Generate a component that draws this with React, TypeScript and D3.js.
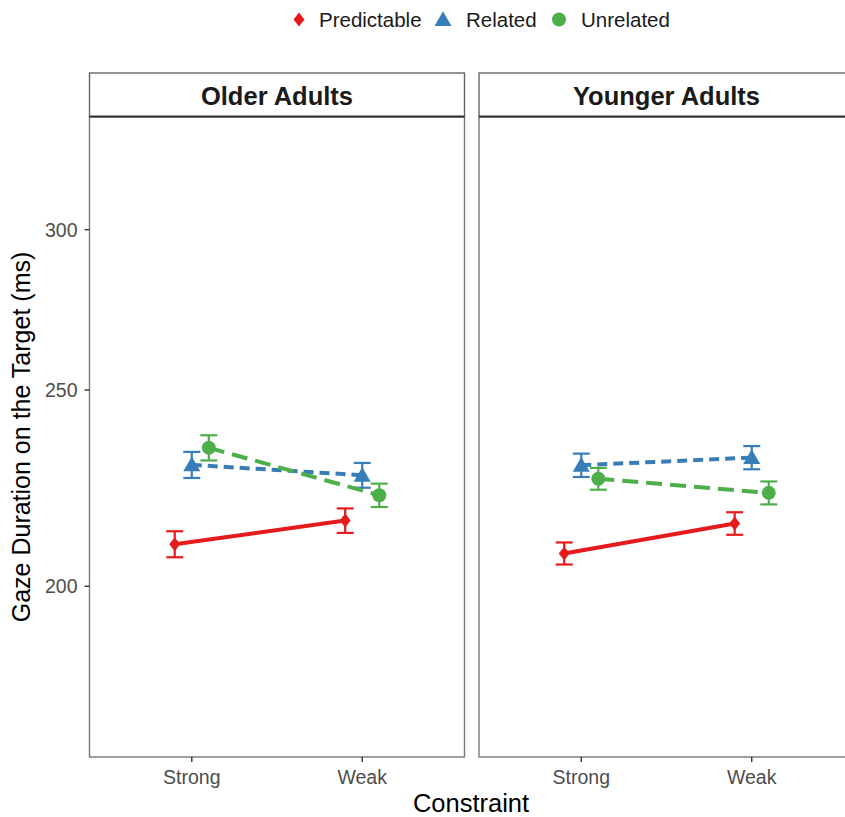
import React from 'react'
import * as d3 from 'd3'

// facets, x categories, conditions
const panels = ['Older Adults', 'Younger Adults']
const constraints = ['Strong', 'Weak']
const conditions = ['Predictable', 'Related', 'Unrelated']

// mean gaze duration (ms), [Strong, Weak]
const olderPredictable = [209.8, 215.5]
const olderRelated = [229.6, 226.9]
const olderUnrelated = [234.1, 221.8]
const youngerPredictable = [207.6, 214.8]
const youngerRelated = [229.5, 231.5]
const youngerUnrelated = [226.0, 222.4]

// standard errors
const olderPredictableSE = [3.1, 3.0]
const olderRelatedSE = [3.4, 3.2]
const olderUnrelatedSE = [3.35, 2.95]
const youngerPredictableSE = [2.6, 2.75]
const youngerRelatedSE = [3.05, 3.05]
const youngerUnrelatedSE = [2.8, 2.9]

const yTicks = [200, 250, 300]

const colors = { Predictable: '#E41A1C', Related: '#377EB8', Unrelated: '#4DAF4A' }
const dashes = { Predictable: null, Related: '10 6', Unrelated: '16 8' }

const series = {
  'Older Adults': {
    Predictable: { mean: olderPredictable, se: olderPredictableSE },
    Related: { mean: olderRelated, se: olderRelatedSE },
    Unrelated: { mean: olderUnrelated, se: olderUnrelatedSE },
  },
  'Younger Adults': {
    Predictable: { mean: youngerPredictable, se: youngerPredictableSE },
    Related: { mean: youngerRelated, se: youngerRelatedSE },
    Unrelated: { mean: youngerUnrelated, se: youngerUnrelatedSE },
  },
}

const font = '"Liberation Sans", Arial, Helvetica, sans-serif'

const W = 845
const H = 817
const panelTop = 117
const panelBottom = 757
const stripTop = 73
const panelW = 375
const panelLefts = [89.5, 479]

const y = d3.scaleLog().domain([164.7, 341]).range([panelBottom, panelTop])

const Marker = ({ cond, x, y, scale = 1 }) => {
  const c = colors[cond]
  if (cond === 'Predictable') {
    const r = 7 * scale
    return <path d={`M${x},${y - r}L${x + r * 0.78},${y}L${x},${y + r}L${x - r * 0.78},${y}Z`} fill={c} />
  }
  if (cond === 'Related') {
    const s = d3.symbol(d3.symbolTriangle, 125 * scale * scale)()
    return <path d={s} transform={`translate(${x},${y + 1.5 * scale})`} fill={c} />
  }
  return <circle cx={x} cy={y} r={7 * scale} fill={c} />
}

const Panel = ({ name, left, showY }) => {
  const x = d3
    .scalePoint()
    .domain(constraints)
    .range([left, left + panelW])
    .padding(0.6)
  const step = x.step()
  const offset = { Predictable: -0.1 * step, Related: 0, Unrelated: 0.1 * step }
  const capW = 8.5

  return (
    <g>
      {/* strip */}
      <rect x={left} y={stripTop} width={panelW} height={panelTop - stripTop} fill="white" stroke="#666" strokeWidth={1.4} />
      <text x={left + panelW / 2} y={(stripTop + panelTop) / 2 + 1} dy="0.36em" textAnchor="middle" fontSize={25.5} fontWeight="bold" fill="#1A1A1A">
        {name}
      </text>
      {/* panel border */}
      <rect x={left} y={panelTop} width={panelW} height={panelBottom - panelTop} fill="white" stroke="#777" strokeWidth={1.4} />
      <line x1={left} x2={left + panelW} y1={panelTop - 0.5} y2={panelTop - 0.5} stroke="#333" strokeWidth={2} />

      {conditions.map(cond => {
        const d = series[name][cond]
        const line = d3
          .line()
          .x((v, i) => x(constraints[i]) + offset[cond])
          .y(v => y(v))
        return (
          <g key={cond}>
            <path d={line(d.mean)} fill="none" stroke={colors[cond]} strokeWidth={4} strokeDasharray={dashes[cond] || undefined} />
            {d.mean.map((m, i) => {
              const cx = x(constraints[i]) + offset[cond]
              const lo = y(m - d.se[i])
              const hi = y(m + d.se[i])
              return (
                <g key={i} stroke={colors[cond]} strokeWidth={2.2}>
                  <line x1={cx} x2={cx} y1={lo} y2={hi} />
                  <line x1={cx - capW} x2={cx + capW} y1={lo} y2={lo} />
                  <line x1={cx - capW} x2={cx + capW} y1={hi} y2={hi} />
                </g>
              )
            })}
            {d.mean.map((m, i) => (
              <Marker key={'m' + i} cond={cond} x={x(constraints[i]) + offset[cond]} y={y(m)} />
            ))}
          </g>
        )
      })}

      {/* x axis */}
      {constraints.map(c => (
        <g key={c}>
          <line x1={x(c)} x2={x(c)} y1={panelBottom} y2={panelBottom + 5} stroke="#333" strokeWidth={1.4} />
          <text x={x(c)} y={panelBottom + 20} dy="0.36em" textAnchor="middle" fontSize={19.5} fill="#4D4D4D">
            {c}
          </text>
        </g>
      ))}

      {/* y axis */}
      {showY &&
        yTicks.map(t => (
          <g key={t}>
            <line x1={left - 5} x2={left} y1={y(t)} y2={y(t)} stroke="#333" strokeWidth={1.4} />
            <text x={left - 12} y={y(t)} dy="0.36em" textAnchor="end" fontSize={19.5} fill="#4D4D4D">
              {t}
            </text>
          </g>
        ))}
    </g>
  )
}

const legendItems = [
  { cond: 'Predictable', sx: 299, tx: 319 },
  { cond: 'Related', sx: 443, tx: 466 },
  { cond: 'Unrelated', sx: 559, tx: 581 },
]

export default function App() {
  return (
    <svg width={W} height={H} style={{ position: 'absolute', left: 0, top: 0, background: 'white' }} fontFamily={font}>
      <rect width={W} height={H} fill="white" />
      {/* legend */}
      {legendItems.map(l => (
        <g key={l.cond}>
          <Marker cond={l.cond} x={l.sx} y={19.5} />
          <text x={l.tx} y={20} dy="0.36em" fontSize={20.5} fill="#1A1A1A">
            {l.cond}
          </text>
        </g>
      ))}

      {panels.map((p, i) => (
        <Panel key={p} name={p} left={panelLefts[i]} showY={i === 0} />
      ))}

      <text transform={`translate(30,${(panelTop + panelBottom) / 2}) rotate(-90)`} textAnchor="middle" fontSize={25} fill="black">
        Gaze Duration on the Target (ms)
      </text>
      <text x={471} y={803} dy="0.36em" textAnchor="middle" fontSize={25.5} fill="black">
        Constraint
      </text>
    </svg>
  )
}
